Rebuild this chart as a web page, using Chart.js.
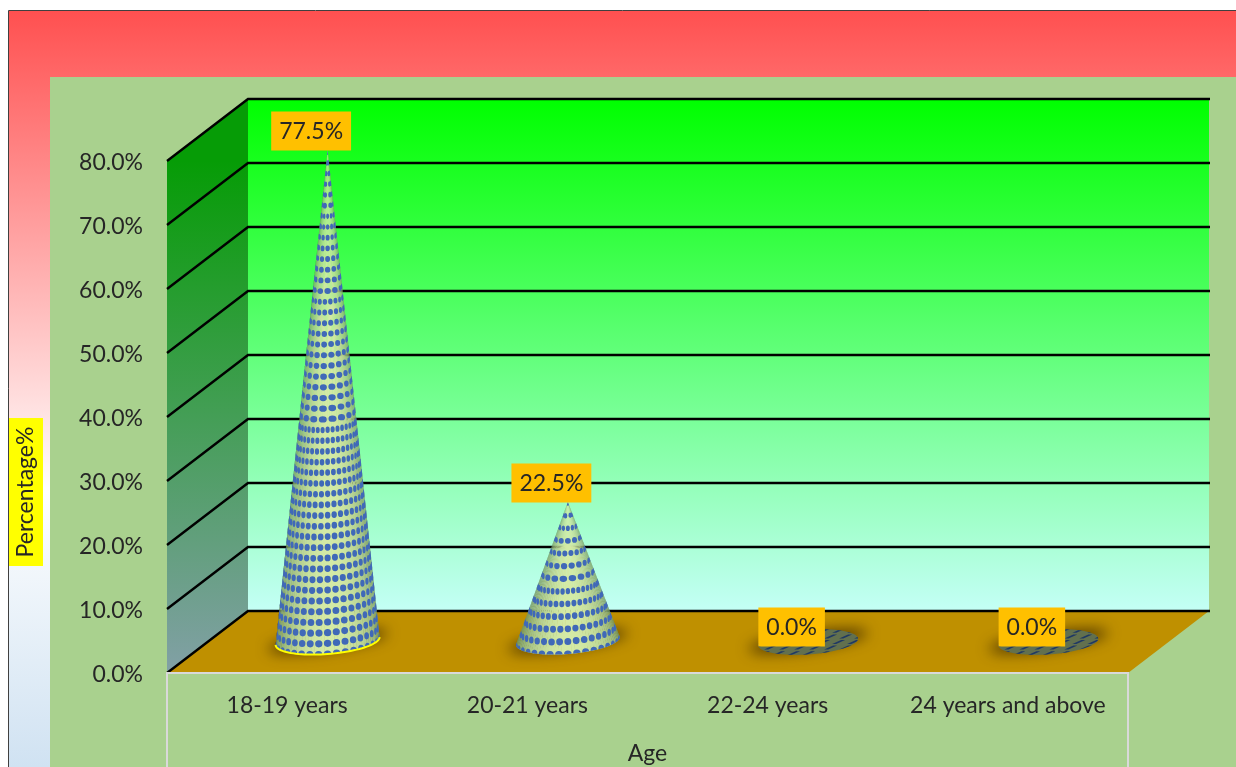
<!DOCTYPE html>
<html>
<head>
<meta charset="utf-8">
<title>Age</title>
<script src="https://cdn.jsdelivr.net/npm/chart.js@4"></script>
<style>
  html, body { margin: 0; padding: 0; background: #fff; overflow: hidden; }
  canvas { display: block; }
</style>
</head>
<body>
<canvas id="grafic" width="1236" height="767"></canvas>
<script>
const categories = ['18-19 years', '20-21 years', '22-24 years', '24 years and above'];
const percentages = [77.5, 22.5, 0, 0];
const yTicks = ['0.0%', '10.0%', '20.0%', '30.0%', '40.0%', '50.0%', '60.0%', '70.0%', '80.0%'];
const xTitle = 'Age';
const yTitle = 'Percentage%';

const FONT = '23px Lato';
const TEXT = '#262626';
// profunditat de la caixa 3D
const DX = 81;
const DY = -62;

function mix(a, b, t) {
  return 'rgb(' + a.map((v, i) => Math.round(v + (b[i] - v) * t)).join(',') + ')';
}

// shadow under each cone
function drawShadow(ctx, cx, cy) {
  ctx.save();
  ctx.filter = 'blur(7px)';
  ctx.fillStyle = 'rgba(50,30,0,0.72)';
  ctx.beginPath();
  ctx.ellipse(cx, cy, 60, 9, -0.14, 0, Math.PI * 2);
  ctx.fill();
  ctx.restore();
}

function conePoint(cx, cy, rx, ry, th) {
  const x = cx + rx * Math.sin(th);
  const y = cy + ry * Math.cos(th) - 0.075 * (x - cx);
  return [x, y];
}

function drawCone(ctx, cx, cy, tipY, yellowEdge) {
  const rx = 52, ry = 13;
  const height = cy - tipY;
  const rowGap = height > 300 ? 10.4 : 11.5;
  const light = [212, 234, 165];
  const dark = [112, 148, 96];

  // body, slice by slice so the shading follows the surface
  const slices = 48;
  for (let i = 0; i < slices; i++) {
    const a = -Math.PI / 2 + Math.PI * i / slices;
    const b = a + Math.PI / slices + 0.01;
    const p = conePoint(cx, cy, rx, ry, a);
    const q = conePoint(cx, cy, rx, ry, b);
    const shade = Math.pow(Math.cos((a + b) / 2 - 0.05), 1.2);
    ctx.fillStyle = mix(dark, light, shade);
    ctx.beginPath();
    ctx.moveTo(cx, tipY);
    ctx.lineTo(p[0], p[1]);
    ctx.lineTo(q[0], q[1]);
    ctx.closePath();
    ctx.fill();
  }

  // outline used as clip
  ctx.save();
  ctx.beginPath();
  ctx.moveTo(cx, tipY);
  const left = conePoint(cx, cy, rx, ry, -Math.PI / 2);
  ctx.lineTo(left[0], left[1]);
  for (let i = 1; i <= slices; i++) {
    const p = conePoint(cx, cy, rx, ry, -Math.PI / 2 + Math.PI * i / slices);
    ctx.lineTo(p[0], p[1]);
  }
  ctx.closePath();
  ctx.clip();

  // blue dots; fewer meridians towards the tip so they stay separate
  const step = Math.PI / 18;
  ctx.filter = 'blur(0.7px)';
  for (let row = 0; row * rowGap < height + ry; row++) {
    const v = (row * rowGap) / height;
    const scale = Math.max(0, 1 - v);
    const midY = cy - row * rowGap;
    const skip = scale > 0.55 ? 1 : scale > 0.28 ? 2 : scale > 0.13 ? 3 : 6;
    ctx.beginPath();
    for (let m = -9; m <= 9; m += skip) {
      const th = m * step;
      const p = conePoint(cx, midY, rx * scale, ry * scale, th);
      const w = Math.max(1.2, rx * scale * step * skip * Math.cos(th) * 0.42);
      const h = 2.7 + 0.9 * scale;
      ctx.moveTo(p[0] + w, p[1]);
      ctx.ellipse(p[0], p[1], w, h, 0, 0, Math.PI * 2);
    }
    ctx.fillStyle = '#4069b8';
    ctx.fill();
  }
  ctx.restore();

  if (yellowEdge) {
    ctx.strokeStyle = '#ffff00';
    ctx.lineWidth = 2;
    ctx.beginPath();
    for (let i = 0; i <= slices; i++) {
      const p = conePoint(cx, cy, rx, ry, -Math.PI / 2 + Math.PI * i / slices);
      if (i === 0) ctx.moveTo(p[0], p[1]);
      else ctx.lineTo(p[0], p[1]);
    }
    ctx.stroke();
  }
}

// a 0% cone is only its flat base
function drawDisc(ctx, cx, cy) {
  ctx.save();
  ctx.beginPath();
  ctx.ellipse(cx, cy, 50, 12.5, -0.07, 0, Math.PI * 2);
  ctx.fillStyle = '#62704e';
  ctx.fill();
  ctx.clip();
  ctx.fillStyle = '#1f3864';
  for (let r = -3; r <= 3; r++) {
    const y = cy + r * 5.6;
    for (let c = -6; c <= 6; c++) {
      const x = cx + c * 15 + (r % 2 ? 7 : 0);
      ctx.beginPath();
      ctx.moveTo(x - 6, y + 2);
      ctx.lineTo(x + 3, y - 2);
      ctx.lineTo(x + 7, y - 2);
      ctx.lineTo(x - 2, y + 2);
      ctx.closePath();
      ctx.fill();
    }
  }
  ctx.restore();
}

const boxPlugin = {
  id: 'box3d',
  beforeDraw(chart) {
    const ctx = chart.ctx;
    const w = chart.width, h = chart.height;
    ctx.save();
    const bg = ctx.createLinearGradient(0, 11, 0, h);
    bg.addColorStop(0, '#ff5050');
    bg.addColorStop(0.635, '#ffffff');
    bg.addColorStop(1, '#d0e2f2');
    ctx.fillStyle = bg;
    ctx.fillRect(8, 11, w - 8, h - 11);
    ctx.strokeStyle = '#404040';
    ctx.lineWidth = 1;
    ctx.beginPath();
    ctx.moveTo(8.5, h);
    ctx.lineTo(8.5, 10.5);
    ctx.lineTo(w, 10.5);
    ctx.stroke();
    // plot area
    ctx.fillStyle = '#a9d18e';
    ctx.fillRect(50, 77, w - 50, h - 77);
    // axis title box
    ctx.fillStyle = '#ffff00';
    ctx.fillRect(9, 418, 34, 148);
    ctx.translate(26, 492);
    ctx.rotate(-Math.PI / 2);
    ctx.fillStyle = TEXT;
    ctx.font = FONT;
    ctx.textAlign = 'center';
    ctx.textBaseline = 'middle';
    ctx.fillText(yTitle, 0, 0);
    ctx.restore();
  },
  beforeDatasetsDraw(chart) {
    const ctx = chart.ctx;
    const y = chart.scales.y;
    const a = chart.chartArea;
    const top = y.getPixelForValue(80), zero = y.getPixelForValue(0);
    ctx.save();

    // back wall
    const wall = ctx.createLinearGradient(0, top + DY, 0, zero + DY);
    wall.addColorStop(0, '#00ff00');
    wall.addColorStop(1, '#c4fff6');
    ctx.fillStyle = wall;
    ctx.fillRect(a.left + DX, top + DY, a.right - a.left, zero - top);

    // side wall
    const side = ctx.createLinearGradient(0, top, 0, zero);
    side.addColorStop(0, '#069c06');
    side.addColorStop(1, '#82a0a6');
    ctx.fillStyle = side;
    ctx.beginPath();
    ctx.moveTo(a.left, top);
    ctx.lineTo(a.left + DX, top + DY);
    ctx.lineTo(a.left + DX, zero + DY);
    ctx.lineTo(a.left, zero);
    ctx.closePath();
    ctx.fill();

    // floor
    ctx.fillStyle = '#bf9000';
    ctx.beginPath();
    ctx.moveTo(a.left, zero);
    ctx.lineTo(a.left + DX, zero + DY);
    ctx.lineTo(a.right + DX, zero + DY);
    ctx.lineTo(a.right, zero);
    ctx.closePath();
    ctx.fill();

    // gridlines on the walls
    ctx.strokeStyle = '#000';
    ctx.lineWidth = 2.4;
    y.ticks.forEach(t => {
      const p = y.getPixelForValue(t.value);
      ctx.beginPath();
      ctx.moveTo(a.left, p);
      ctx.lineTo(a.left + DX, p + DY);
      ctx.lineTo(a.right + DX + 1, p + DY);
      ctx.stroke();
    });

    // front edge of the category axis
    ctx.strokeStyle = '#d9d9d9';
    ctx.lineWidth = 2;
    ctx.beginPath();
    ctx.moveTo(a.left, chart.height);
    ctx.lineTo(a.left, zero);
    ctx.lineTo(a.right, zero);
    ctx.lineTo(a.right, chart.height);
    ctx.stroke();
    ctx.restore();
  },
  afterDatasetsDraw(chart) {
    const ctx = chart.ctx;
    const bars = chart.getDatasetMeta(0).data;
    const zero = chart.scales.y.getPixelForValue(0);
    const baseY = zero - 32;
    bars.forEach((bar, i) => {
      const cx = bar.x + DX / 2;
      drawShadow(ctx, cx, baseY);
      if (percentages[i] > 0) drawCone(ctx, cx, baseY, bar.y - 27, i === 0);
      else drawDisc(ctx, cx, baseY + 1);
    });
    // value labels
    ctx.save();
    ctx.font = FONT;
    ctx.textAlign = 'center';
    ctx.textBaseline = 'middle';
    bars.forEach((bar, i) => {
      const text = percentages[i].toFixed(1) + '%';
      const w = ctx.measureText(text).width + 16;
      const lx = bar.x + 24, ly = bar.y - 46;
      ctx.fillStyle = '#ffc000';
      ctx.fillRect(lx - w / 2, ly - 19.5, w, 39);
      ctx.fillStyle = TEXT;
      ctx.fillText(text, lx, ly + 1);
    });
    ctx.restore();
  }
};

new Chart(document.getElementById('grafic'), {
  type: 'bar',
  data: {
    labels: categories,
    datasets: [{
      label: yTitle,
      data: percentages,
      backgroundColor: 'rgba(0,0,0,0)',
      borderWidth: 0
    }]
  },
  plugins: [boxPlugin],
  options: {
    responsive: false,
    animation: false,
    events: [],
    layout: { padding: { left: 0, top: 161, right: 108, bottom: 0 } },
    plugins: { legend: { display: false }, tooltip: { enabled: false }, title: { display: false } },
    scales: {
      x: {
        grid: { display: false },
        border: { display: false },
        afterFit(scale) { scale.height = 94; },
        ticks: {
          color: TEXT,
          font: { family: 'Lato', size: 23 },
          padding: 11,
          maxRotation: 0,
          autoSkip: false
        },
        title: {
          display: true,
          text: xTitle,
          color: TEXT,
          font: { family: 'Lato', size: 23 },
          padding: { top: 20, bottom: 0 }
        }
      },
      y: {
        min: 0,
        max: 80,
        grid: { display: false },
        border: { display: false },
        afterFit(scale) { scale.width = 167; },
        ticks: {
          stepSize: 10,
          color: TEXT,
          font: { family: 'Lato', size: 23 },
          padding: 16,
          labelOffset: 2,
          callback: (v, i) => yTicks[i]
        }
      }
    }
  }
});
</script>
</body>
</html>
